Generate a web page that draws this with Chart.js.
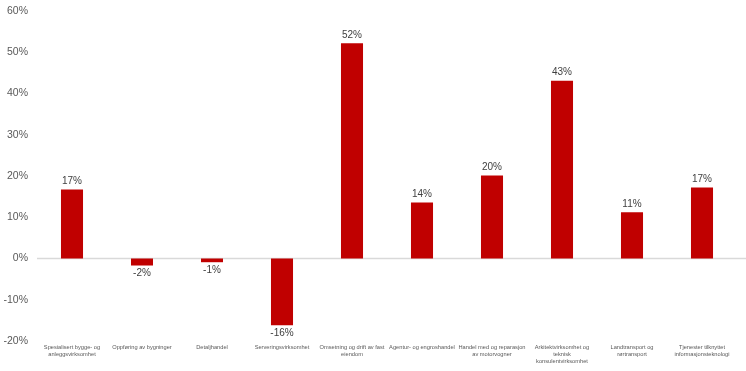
<!DOCTYPE html>
<html><head><meta charset="utf-8">
<script src="https://cdn.jsdelivr.net/npm/chart.js@4.4.1/dist/chart.umd.min.js"></script>
<style>html,body{margin:0;padding:0;background:#fff}#w{width:746px;height:371px}</style>
</head><body><div id="w"><canvas id="c"></canvas></div>
<script>
const categories = [
  ["Spesialisert bygge- og","anleggsvirksomhet"],
  ["Oppføring av bygninger"],
  ["Detaljhandel"],
  ["Serveringsvirksomhet"],
  ["Omsetning og drift av fast","eiendom"],
  ["Agentur- og engroshandel"],
  ["Handel med og reparasjon","av motorvogner"],
  ["Arkitektvirksomhet og","teknisk","konsulentvirksomhet"],
  ["Landtransport og","rørtransport"],
  ["Tjenester tilknyttet","informasjonsteknologi"]
];
const values = [0.167, -0.017, -0.009, -0.162, 0.522, 0.136, 0.201, 0.431, 0.112, 0.172];
const yTicks = [-0.2, -0.1, 0, 0.1, 0.2, 0.3, 0.4, 0.5, 0.6];

const zeroLine = {
  id: 'zeroLine',
  beforeDatasetsDraw(chart) {
    const y = chart.scales.y.getPixelForValue(0);
    const ctx = chart.ctx;
    ctx.save();
    ctx.strokeStyle = '#d9d9d9';
    ctx.lineWidth = 1.5;
    ctx.beginPath();
    ctx.moveTo(chart.chartArea.left, y);
    ctx.lineTo(chart.width, y);
    ctx.stroke();
    ctx.restore();
  }
};

const labelPlugin = {
  id: 'vlabels',
  afterDatasetsDraw(chart) {
    const ctx = chart.ctx;
    const meta = chart.getDatasetMeta(0);
    ctx.save();
    ctx.font = '10px "Liberation Sans", Arial, sans-serif';
    ctx.fillStyle = '#404040';
    ctx.textAlign = 'center';
    meta.data.forEach((bar, i) => {
      const v = values[i];
      const txt = Math.round(v * 100) + '%';
      if (v >= 0) { ctx.textBaseline = 'bottom'; ctx.fillText(txt, bar.x, bar.y - 3); }
      else { ctx.textBaseline = 'top'; ctx.fillText(txt, bar.x, bar.y + 3); }
    });
    ctx.restore();
  }
};

new Chart(document.getElementById('c'), {
  type: 'bar',
  data: { labels: categories, datasets: [{ data: values, backgroundColor: '#c00000', borderWidth: 0, barPercentage: 0.63, categoryPercentage: 0.5 }] },
  options: {
    responsive: true, maintainAspectRatio: false, animation: false,
    layout: { padding: { top: 11, right: 9, left: 0, bottom: 0 } },
    plugins: { legend: { display: false }, tooltip: { enabled: false } },
    scales: {
      x: {
        grid: { display: false, drawTicks: false }, border: { display: false },
        ticks: { font: { size: 5.7, family: '"Liberation Sans", Arial, sans-serif' }, color: '#595959', maxRotation: 0, autoSkip: false, padding: 3 },
        afterFit(s) { s.height = 30; s.paddingLeft = 0; s.paddingRight = 0; }
      },
      y: {
        min: -0.2, max: 0.6,
        afterBuildTicks(s) { s.ticks = yTicks.map(v => ({ value: v })); },
        grid: { display: false, drawTicks: false },
        border: { display: false },
        ticks: { callback: v => Math.round(v * 100) + '%', font: { size: 10.5, family: '"Liberation Sans", Arial, sans-serif' }, color: '#595959', padding: 9 },
        afterFit(s) { s.width = 37; s.paddingTop = 0; s.paddingBottom = 0; }
      }
    }
  },
  plugins: [zeroLine, labelPlugin]
});
</script></body></html>
